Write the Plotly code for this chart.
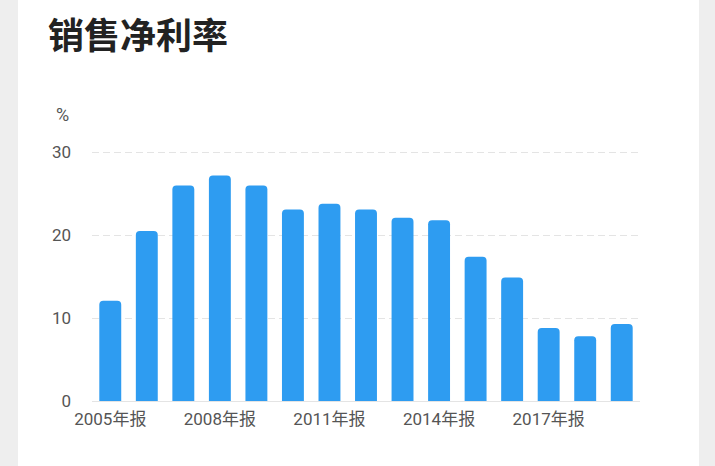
import plotly.graph_objects as go

categories = [f"{y}年报" for y in range(2005, 2020)]
net_margin = [12.1, 20.5, 26.0, 27.2, 26.0, 23.1, 23.8, 23.1, 22.1, 21.8, 17.4, 14.9, 8.8, 7.8, 9.3]
tick_labels = ["2005年报", "2008年报", "2011年报", "2014年报", "2017年报"]
y_ticks = [0, 10, 20, 30]

W, H = 715, 466
ml, mr, mt, mb = 92, 75, 144, 65
pw = W - ml - mr
ph = H - mt - mb

def px2paper_x(px):
    return (px - ml) / pw

def px2paper_y(py):
    return (H - mb - py) / ph

fig = go.Figure()
fig.add_trace(go.Bar(
    x=categories, y=net_margin,
    marker=dict(color="#2E9CF1", line=dict(width=0)),
    width=0.6,
    hoverinfo="x+y",
))

fig.update_layout(
    width=W, height=H, autosize=False,
    margin=dict(l=ml, r=mr, t=mt, b=mb),
    paper_bgcolor="white", plot_bgcolor="white",
    barcornerradius=4,
    showlegend=False,
    font=dict(family="Roboto, 'Noto Sans CJK SC', sans-serif", color="#555555", size=16),
    xaxis=dict(
        type="category",
        tickmode="array", tickvals=tick_labels, ticktext=tick_labels,
        showgrid=False, showline=False, ticks="", ticklabelstandoff=6,
        tickfont=dict(size=17, color="#555555", family="Roboto, 'Noto Sans CJK SC', sans-serif"),
        fixedrange=True,
    ),
    yaxis=dict(
        range=[0, 31], tickvals=y_ticks,
        showgrid=True, gridcolor="#E4E4E4", griddash="7px,4px", gridwidth=1,
        zeroline=True, zerolinecolor="#E4E4E4", zerolinewidth=1,
        showline=False, ticks="", ticklabelstandoff=20,
        tickfont=dict(size=17, color="#555555"),
        fixedrange=True,
    ),
    shapes=[
        dict(type="rect", xref="paper", yref="paper", layer="below",
             x0=px2paper_x(-5), x1=px2paper_x(18), y0=-1, y1=2,
             fillcolor="#EEEEEE", line=dict(width=0)),
        dict(type="rect", xref="paper", yref="paper", layer="below",
             x0=px2paper_x(699), x1=px2paper_x(720), y0=-1, y1=2,
             fillcolor="#EEEEEE", line=dict(width=0)),
    ],
    annotations=[
        dict(text="<b>销售净利率</b>", xref="paper", yref="paper",
             x=px2paper_x(46), y=px2paper_y(33),
             xanchor="left", yanchor="middle", showarrow=False,
             font=dict(size=36, color="#222222", family="'Noto Sans CJK SC', sans-serif")),
        dict(text="%", xref="paper", yref="paper",
             x=px2paper_x(62), y=px2paper_y(115),
             xanchor="center", yanchor="middle", showarrow=False,
             font=dict(size=18, color="#555555", family="Roboto, sans-serif")),
    ],
)

fig.write_html("out.html", config={"displayModeBar": False})

# remove default body margin so the figure sits at the page origin
with open("out.html", encoding="utf-8") as f:
    html = f.read()
html = html.replace("<head>", "<head><style>html,body{margin:0;padding:0;overflow:hidden;}</style>", 1)
with open("out.html", "w", encoding="utf-8") as f:
    f.write(html)
